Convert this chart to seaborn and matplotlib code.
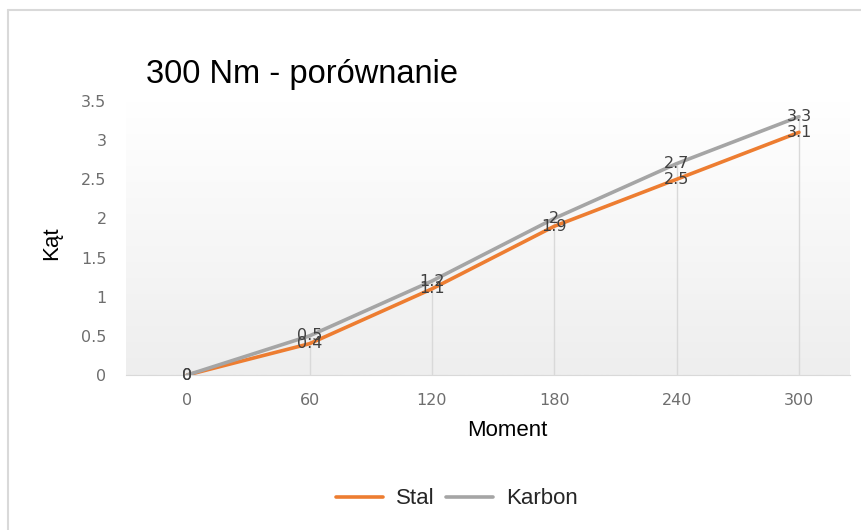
import matplotlib
matplotlib.use('Agg')
import matplotlib.pyplot as plt
from matplotlib.lines import Line2D
import pandas as pd
import seaborn as sns
import numpy as np

# Data
moment = [0, 60, 120, 180, 240, 300]
stal = [0, 0.4, 1.1, 1.9, 2.5, 3.1]
karbon = [0, 0.5, 1.2, 2.0, 2.7, 3.3]
series_names = ['Stal', 'Karbon']
colors = {'Stal': '#ED7D31', 'Karbon': '#A5A5A5'}
y_ticks = [0, 0.5, 1, 1.5, 2, 2.5, 3, 3.5]


def fmt(v):
    return ('%g' % v)


def generate_plot():
    sns.set_style('white')
    plt.rcParams['font.family'] = ['Liberation Sans', 'DejaVu Sans']

    df = pd.DataFrame({
        'Moment': moment * 2,
        'Kat': stal + karbon,
        'Seria': ['Stal'] * len(stal) + ['Karbon'] * len(karbon),
    })

    W, H = 862, 530
    fig = plt.figure(figsize=(W / 100, H / 100), dpi=100)
    ax = fig.add_axes([126 / W, 1 - 375 / H, (850 - 126) / W, (375 - 101) / H])

    # soft gradient background like the original
    grad = np.linspace(1.0, 0.0, 256).reshape(-1, 1)
    cmap = matplotlib.colors.LinearSegmentedColormap.from_list('g', ['#eeeeee', '#ffffff'])
    ax.imshow(grad, extent=[0, 1, 0, 1], transform=ax.transAxes, aspect='auto',
              cmap=cmap, zorder=0)

    # drop lines from the top series down to the axis
    top = np.maximum(stal, karbon)
    ax.vlines(moment[1:], 0, top[1:], color='#d9d9d9', lw=1, zorder=1)

    sns.lineplot(data=df, x='Moment', y='Kat', hue='Seria', hue_order=series_names,
                 palette=colors, linewidth=2.6, ax=ax, legend=False, zorder=3)

    # data labels (centred on the points, as in the original)
    for name, vals in (('Karbon', karbon), ('Stal', stal)):
        for x, y in zip(moment, vals):
            ax.text(x, y, fmt(y), ha='center', va='center', fontsize=11.5,
                    color='#404040', zorder=4, family='DejaVu Sans')

    ax.set_xlim(-30, 325)
    ax.set_ylim(0, 3.5)
    ax.set_xticks(moment)
    ax.set_xticklabels([str(m) for m in moment], family='DejaVu Sans')
    ax.set_yticks(y_ticks)
    ax.set_yticklabels([fmt(t) for t in y_ticks], family='DejaVu Sans')
    ax.tick_params(axis='both', length=0, labelsize=11.5, colors='#6e6e6e')
    ax.tick_params(axis='x', pad=13)
    ax.tick_params(axis='y', pad=14)
    for s in ['top', 'right', 'left']:
        ax.spines[s].set_visible(False)
    ax.spines['bottom'].set_color('#d9d9d9')
    ax.spines['bottom'].set_zorder(2)

    ax.set_xlabel('Moment', fontsize=16, color='black', va='center')
    ax.xaxis.set_label_coords(507 / W, 1 - 431 / H, transform=fig.transFigure)
    ax.set_ylabel('Kąt', fontsize=16, color='black', va='center')
    ax.yaxis.set_label_coords(52 / W, 1 - 243 / H, transform=fig.transFigure)

    fig.text(146 / W, 1 - 74 / H, '300 Nm - porównanie', fontsize=23.5,
             ha='left', va='center', color='black')

    # legend
    handles = [Line2D([0], [0], color=colors[n], lw=2.6) for n in series_names]
    fig.legend(handles, series_names, loc='center', bbox_to_anchor=(457 / W, 1 - 499 / H),
               ncol=2, frameon=False, fontsize=16, handlelength=2.1, columnspacing=0.5,
               handletextpad=0.6)

    # outer chart frame
    fig.add_artist(Line2D([8 / W, 1], [1 - 10 / H, 1 - 10 / H],
                          transform=fig.transFigure, color='#d9d9d9', lw=1.5))
    fig.add_artist(Line2D([8 / W, 8 / W], [0, 1 - 10 / H],
                          transform=fig.transFigure, color='#d9d9d9', lw=1.5))

    fig.savefig('out.png', dpi=100)
    plt.close(fig)


if __name__ == '__main__':
    generate_plot()
